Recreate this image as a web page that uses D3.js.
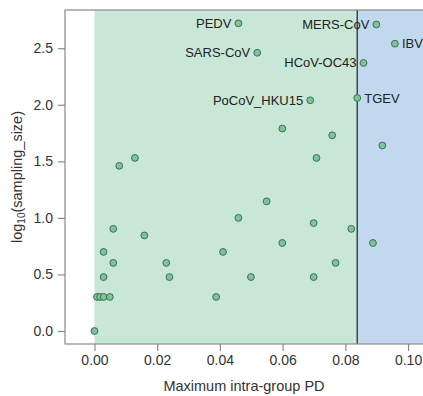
<!DOCTYPE html>
<html>
<head>
<meta charset="utf-8">
<script src="https://cdn.jsdelivr.net/npm/d3@7"></script>
<style>
  body { margin: 0; background: #fff; }
  svg { display: block; font-family: "Liberation Sans", Arial, sans-serif; }
</style>
</head>
<body>
<div id="chart"></div>
<script>
// max intra-group PD and log10(sampling size) for each group
const pdValues = [
  0.0459, 0.0519, 0.0899, 0.0958, 0.0858, 0.0838, 0.0688,
  0.0599, 0.0758, 0.0708, 0.0918, 0.0549, 0.0079, 0.0129,
  0.0060, 0.0159, 0.0029, 0.0060, 0.0029, 0.0229, 0.0239,
  0.0008, 0.0018, 0.0029, 0.0049, 0.0000,
  0.0459, 0.0699, 0.0819, 0.0599, 0.0888, 0.0410, 0.0769,
  0.0499, 0.0699, 0.0388
];
const logSizes = [
  2.72, 2.46, 2.71, 2.54, 2.37, 2.06, 2.04,
  1.79, 1.73, 1.53, 1.64, 1.146, 1.46, 1.53,
  0.903, 0.845, 0.699, 0.602, 0.477, 0.602, 0.477,
  0.301, 0.301, 0.301, 0.301, 0.0,
  1.0, 0.954, 0.903, 0.778, 0.778, 0.699, 0.602,
  0.477, 0.477, 0.301
];
const pointLabels = [
  'PEDV', 'SARS-CoV', 'MERS-CoV', 'IBV', 'HCoV-OC43', 'TGEV', 'PoCoV_HKU15'
];
const labelSide = ['left', 'left', 'left', 'right', 'left', 'right', 'left'];

const xTicks = [0, 0.02, 0.04, 0.06, 0.08, 0.10];
const yTicks = [0, 0.5, 1.0, 1.5, 2.0, 2.5];
const threshold = 0.0838;

const W = 423, H = 396;
const margin = { top: 10, right: -7, bottom: 52, left: 65 };
const width = W - margin.left - margin.right;
const height = H - margin.top - margin.bottom;

const svg = d3.select('#chart').append('svg')
  .attr('width', W)
  .attr('height', H);

const g = svg.append('g')
  .attr('transform', 'translate(' + margin.left + ',' + margin.top + ')');

const x = d3.scaleLinear().domain([-0.0094, 0.107]).range([0, width]);
const y = d3.scaleLinear().domain([-0.115, 2.838]).range([height, 0]);

// shaded regions
g.append('rect')
  .attr('x', x(0))
  .attr('y', 0)
  .attr('width', x(threshold) - x(0))
  .attr('height', height)
  .attr('fill', '#c8e7d6');

g.append('rect')
  .attr('x', x(threshold))
  .attr('y', 0)
  .attr('width', width - x(threshold))
  .attr('height', height)
  .attr('fill', '#c2d8ef');

g.append('line')
  .attr('x1', x(threshold)).attr('x2', x(threshold))
  .attr('y1', 0).attr('y2', height)
  .attr('stroke', '#444')
  .attr('stroke-width', 1.5);

// frame
g.append('rect')
  .attr('width', width)
  .attr('height', height)
  .attr('fill', 'none')
  .attr('stroke', '#8a8a8a')
  .attr('stroke-width', 1.2);

// axes
const xAxis = g.append('g')
  .attr('transform', 'translate(0,' + height + ')')
  .call(d3.axisBottom(x).tickValues(xTicks).tickFormat(d3.format('.2f')).tickSize(7).tickPadding(4));

const yAxis = g.append('g')
  .call(d3.axisLeft(y).tickValues(yTicks).tickFormat(d3.format('.1f')).tickSize(7).tickPadding(5));

[xAxis, yAxis].forEach(a => {
  a.select('.domain').remove();
  a.selectAll('line').attr('stroke', '#8a8a8a').attr('stroke-width', 1.2);
  a.selectAll('text')
    .attr('fill', '#333')
    .attr('font-size', 14)
    .attr('font-family', '"Liberation Sans", Arial, sans-serif');
});

// axis titles, centred on the plot box
svg.append('text')
  .attr('x', 244)
  .attr('y', 391)
  .attr('text-anchor', 'middle')
  .attr('fill', '#333')
  .attr('font-size', 14.5)
  .text('Maximum intra-group PD');

const yTitle = svg.append('text')
  .attr('transform', 'translate(22,177) rotate(-90)')
  .attr('text-anchor', 'middle')
  .attr('fill', '#333')
  .attr('font-size', 14.5);
yTitle.append('tspan').text('log');
yTitle.append('tspan').attr('font-size', 10).attr('dy', 3).text('10');
yTitle.append('tspan').attr('dy', -3).text('(sampling_size)');

// points
const points = pdValues.map((v, i) => ({ pd: v, size: logSizes[i], label: pointLabels[i], side: labelSide[i] }));

g.append('g')
  .selectAll('circle')
  .data(points)
  .enter().append('circle')
  .attr('cx', d => x(d.pd))
  .attr('cy', d => y(d.size))
  .attr('r', 3.4)
  .attr('fill', '#7cc59b')
  .attr('stroke', '#3e6e53')
  .attr('stroke-width', 1);

g.append('g')
  .selectAll('text')
  .data(points.filter(d => d.label))
  .enter().append('text')
  .attr('x', d => x(d.pd) + (d.side === 'left' ? -7 : 7))
  .attr('y', d => y(d.size))
  .attr('dy', '0.35em')
  .attr('text-anchor', d => d.side === 'left' ? 'end' : 'start')
  .attr('fill', '#222')
  .attr('font-size', 13)
  .text(d => d.label);
</script>
</body>
</html>
